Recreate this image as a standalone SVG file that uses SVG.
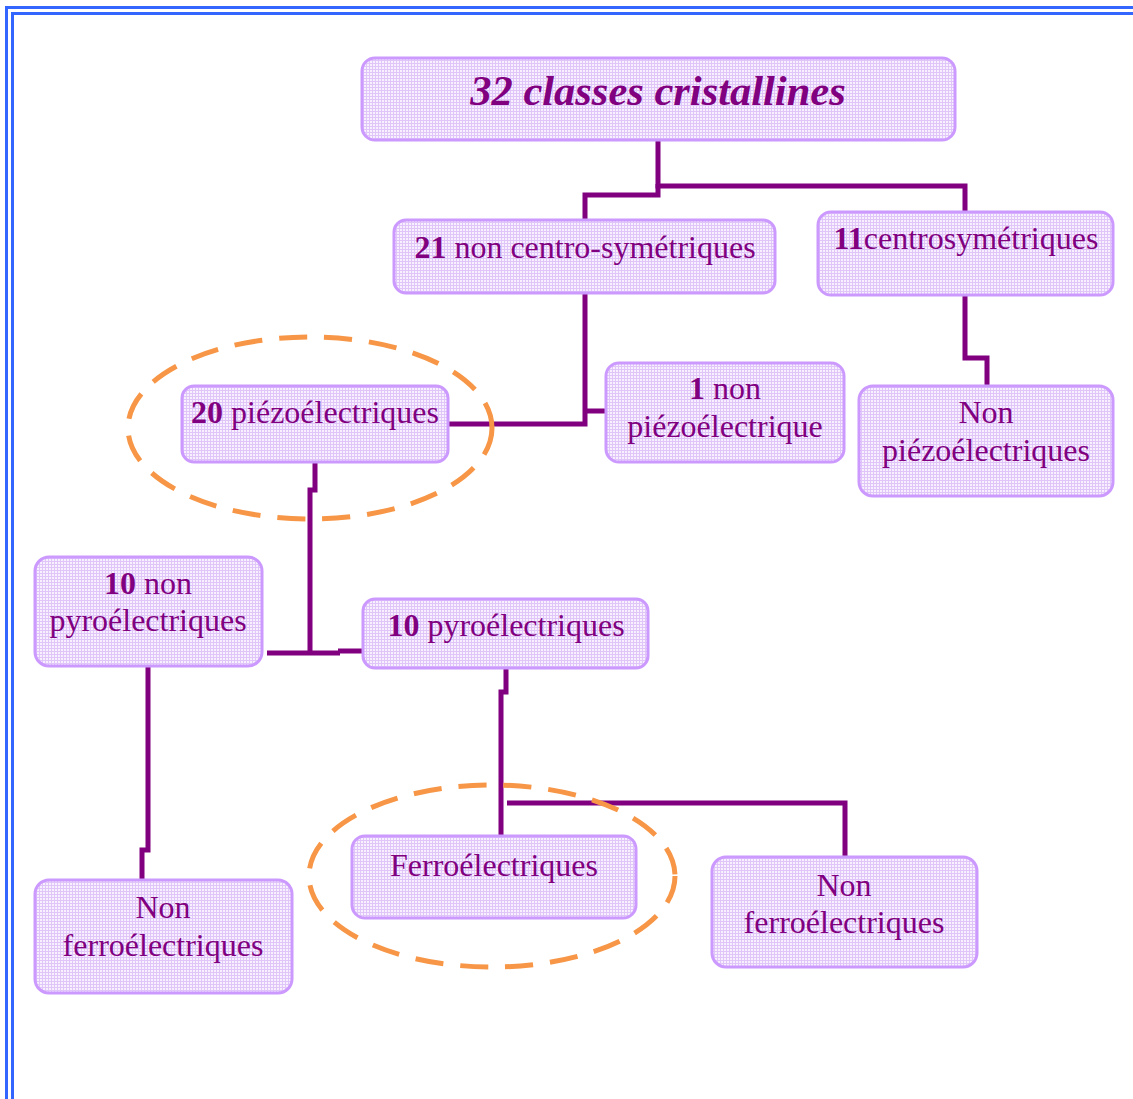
<svg xmlns="http://www.w3.org/2000/svg" width="1133" height="1099" viewBox="0 0 1133 1099">
<defs>
<pattern id="grid" width="3" height="3" patternUnits="userSpaceOnUse">
<rect width="3" height="3" fill="#f8f0ff"/>
<path d="M0 0.5H3M0.5 0V3" stroke="#e0c6f8" stroke-width="1"/>
</pattern>
<style>
.box{fill:url(#grid);stroke:#cc99ff;stroke-width:3}
.t{font-family:"Liberation Serif","Times New Roman",serif;font-size:32px;fill:#800080;text-anchor:middle}
.b{font-weight:bold}
.con{fill:none;stroke:#800080;stroke-width:5;stroke-linejoin:miter;stroke-linecap:butt}
.ell{fill:none;stroke:#f79646;stroke-width:5;stroke-dasharray:28 17}
.brd{fill:none;stroke:#3366ff;stroke-width:3}
</style>
</defs>
<rect width="1133" height="1099" fill="#ffffff"/>
<g id="border">
<rect class="brd" x="6.5" y="7.5" width="1200" height="1200"/>
<rect class="brd" x="12.5" y="13.5" width="1200" height="1200"/>
</g>
<g id="connectors">
<path class="con" d="M658 140V186H965V212"/>
<path class="con" d="M658 184V195H585V220"/>
<path class="con" d="M585 293V424H449"/>
<path class="con" d="M585 411H606"/>
<path class="con" d="M965 295V358H987V386"/>
<path class="con" d="M315 462V490H310V653"/>
<path class="con" d="M267 653H340"/>
<path class="con" d="M338 651H363"/>
<path class="con" d="M148 666V850H142V880"/>
<path class="con" d="M506 668V692H501V835"/>
<path class="con" d="M507 803H845V857"/>
</g>
<g id="ellipses">
<ellipse class="ell" cx="310" cy="428" rx="182" ry="91"/>
<ellipse class="ell" cx="492" cy="876" rx="183" ry="91"/>
</g>
<g id="n32">
<rect class="box" x="362" y="58" width="593" height="82" rx="13"/>
<text class="t b" x="658" y="105" style="font-size:42.5px;font-style:italic">32 classes cristallines</text>
</g>
<g id="n21">
<rect class="box" x="394" y="220" width="381" height="73" rx="12"/>
<text class="t" x="585" y="258"><tspan class="b">21</tspan> non centro-symétriques</text>
</g>
<g id="n11">
<rect class="box" x="818" y="212" width="295" height="83" rx="13"/>
<text class="t" x="966" y="249"><tspan class="b">11</tspan>centrosymétriques</text>
</g>
<g id="n1">
<rect class="box" x="606" y="363" width="238" height="99" rx="13"/>
<text class="t" x="725" y="399"><tspan class="b">1</tspan> non</text>
<text class="t" x="725" y="437">piézoélectrique</text>
</g>
<g id="nnonpiezo">
<rect class="box" x="859" y="386" width="254" height="110" rx="14"/>
<text class="t" x="986" y="423">Non</text>
<text class="t" x="986" y="461">piézoélectriques</text>
</g>
<g id="n20">
<rect class="box" x="182" y="386" width="266" height="76" rx="12"/>
<text class="t" x="315" y="423"><tspan class="b">20</tspan> piézoélectriques</text>
</g>
<g id="n10non">
<rect class="box" x="35" y="557" width="227" height="109" rx="14"/>
<text class="t" x="148" y="594"><tspan class="b">10</tspan> non</text>
<text class="t" x="148" y="631">pyroélectriques</text>
</g>
<g id="n10">
<rect class="box" x="363" y="599" width="285" height="69" rx="12"/>
<text class="t" x="506" y="636"><tspan class="b">10</tspan> pyroélectriques</text>
</g>
<g id="nnonferroL">
<rect class="box" x="35" y="880" width="257" height="113" rx="14"/>
<text class="t" x="163" y="918">Non</text>
<text class="t" x="163" y="956">ferroélectriques</text>
</g>
<g id="nferro">
<rect class="box" x="352" y="836" width="284" height="82" rx="13"/>
<text class="t" x="494" y="876">Ferroélectriques</text>
</g>
<g id="nnonferroR">
<rect class="box" x="712" y="857" width="265" height="110" rx="14"/>
<text class="t" x="844" y="896">Non</text>
<text class="t" x="844" y="933">ferroélectriques</text>
</g>
</svg>
